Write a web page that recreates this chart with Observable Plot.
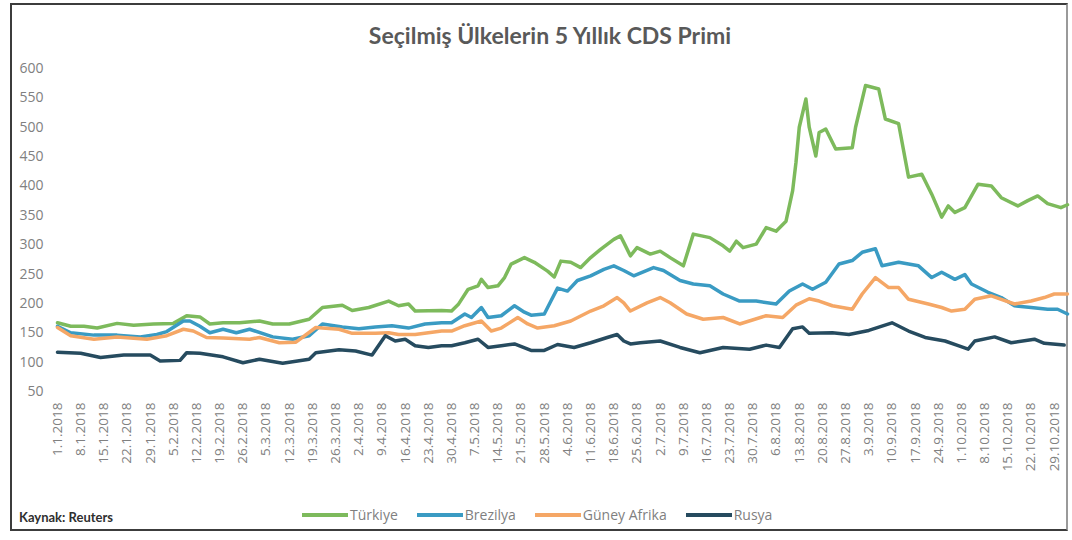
<!DOCTYPE html>
<html>
<head>
<meta charset="utf-8">
<script src="https://cdn.jsdelivr.net/npm/d3@7"></script>
<script src="https://cdn.jsdelivr.net/npm/@observablehq/plot@0.6"></script>
<style>
  body { margin: 0; background: #fff; }
  #wrap { position: relative; width: 1072px; height: 540px; overflow: hidden; background: #fff; font-family: "Open Sans", sans-serif; }
  #frame { position: absolute; left: 10px; top: 3px; width: 1054px; height: 524px; border: 2px solid #3c3c3c; border-right-color: #9a9a9a; }
  #title { position: absolute; left: 250px; width: 600px; top: 21px; text-align: center; font: 700 23px Lato, "Open Sans", sans-serif; color: #595959; }
  #chart { position: absolute; left: 0; top: 55px; }
  #source { position: absolute; left: 19px; top: 509px; font: 700 13px Lato, sans-serif; color: #2f2f2f; }
  #legend { position: absolute; left: 302px; top: 505px; display: flex; align-items: center; gap: 19px; font: 14px "Open Sans", sans-serif; color: #7f7f7f; }
  .item { display: flex; align-items: center; }
  .swatch { width: 46px; height: 4px; margin-right: 2px; }
</style>
</head>
<body>
<div id="wrap">
  <div id="frame"></div>
  <div id="title"></div>
  <div id="chart"></div>
  <div id="source"></div>
  <div id="legend"></div>
</div>
<script>
const titleText = "Seçilmiş Ülkelerin 5 Yıllık CDS Primi";
const sourceText = "Kaynak: Reuters";
const seriesNames = ["Türkiye", "Brezilya", "Güney Afrika", "Rusya"];
const seriesColors = ["#7dba5c", "#3a9bc3", "#f5a766", "#264b5f"];
const yTicks = [50, 100, 150, 200, 250, 300, 350, 400, 450, 500, 550, 600];
const xTickDates = ["2018-01-01","2018-01-08","2018-01-15","2018-01-22","2018-01-29","2018-02-05","2018-02-12","2018-02-19","2018-02-26","2018-03-05","2018-03-12","2018-03-19","2018-03-26","2018-04-02","2018-04-09","2018-04-16","2018-04-23","2018-04-30","2018-05-07","2018-05-14","2018-05-21","2018-05-28","2018-06-04","2018-06-11","2018-06-18","2018-06-25","2018-07-02","2018-07-09","2018-07-16","2018-07-23","2018-07-30","2018-08-06","2018-08-13","2018-08-20","2018-08-27","2018-09-03","2018-09-10","2018-09-17","2018-09-24","2018-10-01","2018-10-08","2018-10-15","2018-10-22","2018-10-29"];
const xDomain = ["2018-01-01", "2018-11-02"];

const turkiyeDates = ["2018-01-01","2018-01-05","2018-01-09","2018-01-13","2018-01-19","2018-01-24","2018-01-30","2018-02-05","2018-02-09","2018-02-13","2018-02-16","2018-02-20","2018-02-25","2018-03-03","2018-03-07","2018-03-12","2018-03-18","2018-03-22","2018-03-28","2018-03-31","2018-04-05","2018-04-11","2018-04-14","2018-04-17","2018-04-19","2018-04-27","2018-04-30","2018-05-02","2018-05-05","2018-05-08","2018-05-09","2018-05-11","2018-05-14","2018-05-16","2018-05-18","2018-05-22","2018-05-25","2018-05-29","2018-05-31","2018-06-02","2018-06-05","2018-06-08","2018-06-11","2018-06-14","2018-06-18","2018-06-20","2018-06-21","2018-06-23","2018-06-25","2018-06-29","2018-07-02","2018-07-05","2018-07-09","2018-07-12","2018-07-17","2018-07-21","2018-07-23","2018-07-25","2018-07-27","2018-07-31","2018-08-03","2018-08-06","2018-08-09","2018-08-11","2018-08-12","2018-08-13","2018-08-15","2018-08-16","2018-08-18","2018-08-19","2018-08-21","2018-08-24","2018-08-29","2018-08-30","2018-09-02","2018-09-06","2018-09-08","2018-09-12","2018-09-15","2018-09-19","2018-09-22","2018-09-25","2018-09-27","2018-09-29","2018-10-02","2018-10-06","2018-10-10","2018-10-13","2018-10-18","2018-10-21","2018-10-24","2018-10-27","2018-10-31","2018-11-02"];
const turkiyeValues = [167,161,161,158,166,163,165,166,179,177,165,167,167,170,165,165,173,193,197,188,193,204,196,199,187,188,187,198,224,230,241,227,230,244,267,278,270,255,245,272,270,261,278,292,309,315,304,281,295,284,289,278,264,318,312,298,289,306,295,301,329,323,340,392,440,500,548,500,451,491,497,463,465,500,571,565,514,506,415,420,386,347,366,355,363,403,400,380,366,375,383,370,363,368];

const brezilyaDates = ["2018-01-01","2018-01-05","2018-01-12","2018-01-19","2018-01-26","2018-01-31","2018-02-03","2018-02-08","2018-02-10","2018-02-13","2018-02-16","2018-02-20","2018-02-24","2018-02-28","2018-03-07","2018-03-13","2018-03-18","2018-03-22","2018-03-28","2018-04-02","2018-04-07","2018-04-12","2018-04-17","2018-04-22","2018-04-27","2018-04-30","2018-05-04","2018-05-06","2018-05-09","2018-05-11","2018-05-15","2018-05-19","2018-05-22","2018-05-24","2018-05-28","2018-05-30","2018-06-01","2018-06-04","2018-06-07","2018-06-11","2018-06-15","2018-06-18","2018-06-21","2018-06-24","2018-06-30","2018-07-03","2018-07-08","2018-07-12","2018-07-17","2018-07-21","2018-07-26","2018-07-31","2018-08-06","2018-08-10","2018-08-14","2018-08-17","2018-08-21","2018-08-25","2018-08-29","2018-09-01","2018-09-05","2018-09-07","2018-09-12","2018-09-18","2018-09-22","2018-09-25","2018-09-29","2018-10-02","2018-10-04","2018-10-09","2018-10-13","2018-10-17","2018-10-22","2018-10-27","2018-10-30","2018-11-02"];
const brezilyaValues = [161,150,146,146,143,147,152,170,170,161,150,156,150,156,143,139,145,165,160,157,160,162,158,165,167,167,182,176,193,176,179,196,185,180,182,204,226,221,239,247,258,264,256,247,261,256,239,233,230,216,204,204,199,221,233,224,236,267,273,287,293,264,270,264,244,253,241,249,233,219,210,196,193,190,190,182];

const guneyAfrikaDates = ["2018-01-01","2018-01-05","2018-01-12","2018-01-19","2018-01-28","2018-02-03","2018-02-08","2018-02-11","2018-02-15","2018-02-20","2018-02-28","2018-03-03","2018-03-09","2018-03-14","2018-03-20","2018-03-27","2018-03-31","2018-04-07","2018-04-11","2018-04-14","2018-04-19","2018-04-27","2018-04-30","2018-05-04","2018-05-09","2018-05-12","2018-05-15","2018-05-20","2018-05-23","2018-05-26","2018-05-31","2018-06-05","2018-06-11","2018-06-15","2018-06-19","2018-06-21","2018-06-23","2018-06-28","2018-07-02","2018-07-05","2018-07-10","2018-07-15","2018-07-21","2018-07-26","2018-08-03","2018-08-08","2018-08-12","2018-08-16","2018-08-19","2018-08-23","2018-08-29","2018-09-01","2018-09-05","2018-09-09","2018-09-12","2018-09-15","2018-09-21","2018-09-25","2018-09-28","2018-10-02","2018-10-05","2018-10-10","2018-10-13","2018-10-17","2018-10-22","2018-10-26","2018-10-29","2018-11-02"];
const guneyAfrikaValues = [159,145,139,143,139,145,156,153,142,141,139,142,133,134,159,156,149,149,150,147,147,153,153,162,170,153,158,176,165,158,162,170,187,196,210,201,187,201,210,201,182,173,176,165,179,176,197,208,204,196,190,216,244,227,227,207,199,193,187,190,207,213,207,199,204,210,216,216];

const rusyaDates = ["2018-01-01","2018-01-08","2018-01-14","2018-01-21","2018-01-29","2018-02-01","2018-02-07","2018-02-09","2018-02-13","2018-02-20","2018-02-26","2018-03-03","2018-03-10","2018-03-18","2018-03-20","2018-03-27","2018-04-01","2018-04-06","2018-04-10","2018-04-13","2018-04-16","2018-04-19","2018-04-23","2018-04-27","2018-04-30","2018-05-04","2018-05-08","2018-05-11","2018-05-15","2018-05-19","2018-05-24","2018-05-28","2018-06-01","2018-06-06","2018-06-11","2018-06-16","2018-06-19","2018-06-21","2018-06-23","2018-06-26","2018-07-02","2018-07-08","2018-07-14","2018-07-21","2018-07-29","2018-08-03","2018-08-07","2018-08-11","2018-08-14","2018-08-16","2018-08-23","2018-08-28","2018-09-03","2018-09-10","2018-09-15","2018-09-20","2018-09-26","2018-09-30","2018-10-03","2018-10-05","2018-10-11","2018-10-16","2018-10-23","2018-10-26","2018-11-01"];
const rusyaValues = [117,115,108,112,112,102,103,116,115,109,99,105,98,105,116,121,119,112,145,136,139,128,125,128,128,133,139,125,128,131,120,120,130,125,133,142,147,136,131,133,136,125,116,125,122,129,125,157,160,149,150,147,154,167,153,142,136,128,122,136,143,133,139,132,129];

const parse = d3.utcParse("%Y-%m-%d");
const seriesDates = [turkiyeDates, brezilyaDates, guneyAfrikaDates, rusyaDates];
const seriesValues = [turkiyeValues, brezilyaValues, guneyAfrikaValues, rusyaValues];
const rows = [];
seriesNames.forEach((name, s) => {
  seriesDates[s].forEach((d, i) => rows.push({ name, date: parse(d), value: seriesValues[s][i] }));
});

const chart = Plot.plot({
  width: 1072,
  height: 432,
  marginLeft: 57,
  marginRight: 5,
  marginTop: 13,
  marginBottom: 96,
  style: { fontFamily: "'Open Sans', sans-serif", fontSize: "14px", color: "#808080", background: "transparent", overflow: "visible" },
  x: { type: "utc", domain: xDomain.map(parse) },
  y: { domain: [50, 600] },
  color: { domain: seriesNames, range: seriesColors },
  marks: [
    Plot.axisY({ ticks: yTicks, tickSize: 0, tickPadding: 14, label: null, fontSize: 14 }),
    Plot.axisX({ ticks: xTickDates.map(parse), tickFormat: d3.utcFormat("%-d.%-m.%Y"), tickRotate: -90, tickSize: 0, tickPadding: 11, label: null, fontSize: 13.5 }),
    Plot.lineY(rows, { x: "date", y: "value", z: "name", stroke: "name", strokeWidth: 3.5, curve: "linear", strokeLinejoin: "round" })
  ]
});
document.getElementById("chart").appendChild(chart);
document.getElementById("title").textContent = titleText;
document.getElementById("source").textContent = sourceText;

const legend = document.getElementById("legend");
seriesNames.forEach((name, i) => {
  const item = document.createElement("div");
  item.className = "item";
  const sw = document.createElement("span");
  sw.className = "swatch";
  sw.style.background = seriesColors[i];
  const lab = document.createElement("span");
  lab.textContent = name;
  item.appendChild(sw);
  item.appendChild(lab);
  legend.appendChild(item);
});
</script>
</body>
</html>
